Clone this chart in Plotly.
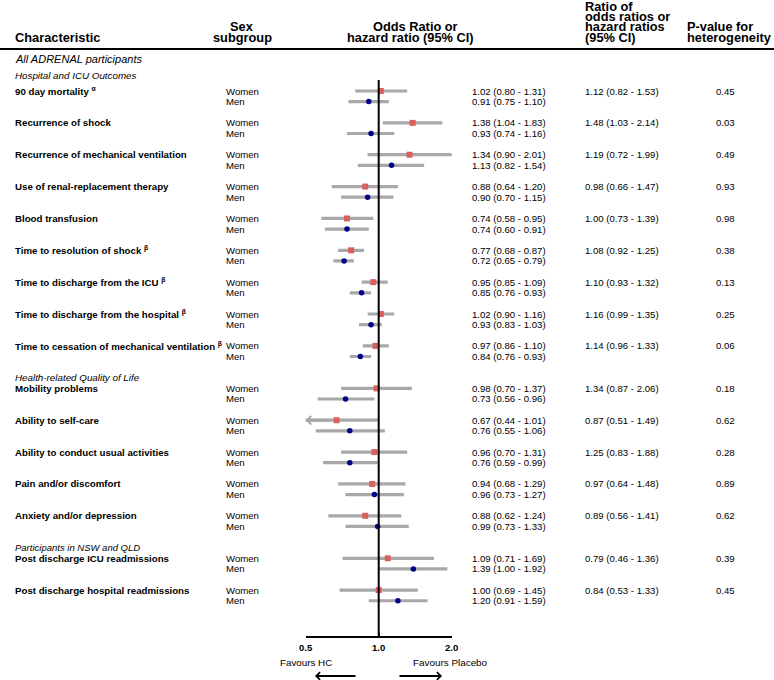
import math
import plotly.graph_objects as go

W, H = 774, 680

# ---------------- data ----------------
section_labels = ["All ADRENAL participants", "Health-related Quality of Life", "Participants in NSW and QLD"]
sub_label = "Hospital and ICU Outcomes"

outcomes = [
    "90 day mortality <sup>α</sup>",
    "Recurrence of shock",
    "Recurrence of mechanical ventilation",
    "Use of renal-replacement therapy",
    "Blood transfusion",
    "Time to resolution of shock <sup>β</sup>",
    "Time to discharge from the ICU <sup>β</sup>",
    "Time to discharge from the hospital <sup>β</sup>",
    "Time to cessation of mechanical ventilation <sup>β</sup>",
    "Mobility problems",
    "Ability to self-care",
    "Ability to conduct usual activities",
    "Pain and/or discomfort",
    "Anxiety and/or depression",
    "Post discharge ICU readmissions",
    "Post discharge hospital readmissions",
]
outcome_section = [0, 0, 0, 0, 0, 0, 0, 0, 0, 1, 1, 1, 1, 1, 2, 2]
sex_labels = ["Women", "Men"]

women_est = [1.02, 1.38, 1.34, 0.88, 0.74, 0.77, 0.95, 1.02, 0.97, 0.98, 0.67, 0.96, 0.94, 0.88, 1.09, 1.00]
women_lo = [0.80, 1.04, 0.90, 0.64, 0.58, 0.68, 0.85, 0.90, 0.86, 0.70, 0.44, 0.70, 0.68, 0.62, 0.71, 0.69]
women_hi = [1.31, 1.83, 2.01, 1.20, 0.95, 0.87, 1.09, 1.16, 1.10, 1.37, 1.01, 1.31, 1.29, 1.24, 1.69, 1.45]
men_est = [0.91, 0.93, 1.13, 0.90, 0.74, 0.72, 0.85, 0.93, 0.84, 0.73, 0.76, 0.76, 0.96, 0.99, 1.39, 1.20]
men_lo = [0.75, 0.74, 0.82, 0.70, 0.60, 0.65, 0.76, 0.83, 0.76, 0.56, 0.55, 0.59, 0.73, 0.73, 1.00, 0.91]
men_hi = [1.10, 1.16, 1.54, 1.15, 0.91, 0.79, 0.93, 1.03, 0.93, 0.96, 1.06, 0.99, 1.27, 1.33, 1.92, 1.59]
ratio_est = [1.12, 1.48, 1.19, 0.98, 1.00, 1.08, 1.10, 1.16, 1.14, 1.34, 0.87, 1.25, 0.97, 0.89, 0.79, 0.84]
ratio_lo = [0.82, 1.03, 0.72, 0.66, 0.73, 0.92, 0.93, 0.99, 0.96, 0.87, 0.51, 0.83, 0.64, 0.56, 0.46, 0.53]
ratio_hi = [1.53, 2.14, 1.99, 1.47, 1.39, 1.25, 1.32, 1.35, 1.33, 2.06, 1.49, 1.88, 1.48, 1.41, 1.36, 1.33]
p_values = ["0.45", "0.03", "0.49", "0.93", "0.98", "0.38", "0.13", "0.25", "0.06",
            "0.18", "0.62", "0.28", "0.89", "0.62", "0.39", "0.45"]

x_min, x_max = 0.5, 2.0
x_ticks = [0.5, 1.0, 2.0]
x_ticktext = ["0.5", "1.0", "2.0"]
null_value = 1.0

# ---------------- layout constants (pixels) ----------------
ROW0_PX = 91.0
ROW_PX = 10.62
AXIS_PX = 635.7
REF_TOP_ROW = -1.04
FONT = "Liberation Sans, Arial, sans-serif"
C_WOMEN = "#d9605c"
C_MEN = "#00008b"
C_CI = "#a8a8a8"

# row index of each outcome (Women row; Men = +1)
rows = []
section_label_rows = {}
r = 0
for k, s in enumerate(outcome_section):
    if k == 0:
        r = 0
    elif s != outcome_section[k - 1]:
        section_label_rows[s] = r + 3
        r = r + 4
    else:
        r = r + 3
    rows.append(r)
section_label_rows[0] = -3

y_top = (0 - ROW0_PX) / ROW_PX
y_bot = (AXIS_PX - ROW0_PX) / ROW_PX


def px(xp):
    return xp / W


def py(yp):
    return 1 - yp / H


fig = go.Figure()


def ci_xy(lo, hi, offset):
    xs, ys = [], []
    for i in range(len(lo)):
        xs += [lo[i], hi[i], None]
        ys += [rows[i] + offset] * 2 + [None]
    return xs, ys


for lo, hi, off in [(women_lo, women_hi, 0), (men_lo, men_hi, 1)]:
    xs, ys = ci_xy(lo, hi, off)
    fig.add_trace(go.Scatter(x=xs, y=ys, mode="lines",
                             line=dict(color=C_CI, width=3.2),
                             hoverinfo="skip", showlegend=False))

fig.add_trace(go.Scatter(x=women_est, y=[r_ for r_ in rows], mode="markers",
                         marker=dict(symbol="square", size=6, color=C_WOMEN),
                         name="Women", showlegend=False, cliponaxis=False))
fig.add_trace(go.Scatter(x=men_est, y=[r_ + 1 for r_ in rows], mode="markers",
                         marker=dict(symbol="circle", size=5.5, color=C_MEN),
                         name="Men", showlegend=False, cliponaxis=False))

shapes = []
shapes.append(dict(type="line", xref="x", yref="y", x0=null_value, x1=null_value,
                   y0=REF_TOP_ROW, y1=y_bot, line=dict(color="black", width=2)))
shapes.append(dict(type="line", xref="paper", yref="paper", x0=0, x1=1,
                   y0=py(49), y1=py(49), line=dict(color="black", width=2.2)))

ann = []


def text(x, y, t, size=9.6, bold=False, italic=False, anchor="left", yref="y"):
    s = t
    if bold:
        s = "<b>" + s + "</b>"
    if italic:
        s = "<i>" + s + "</i>"
    ann.append(dict(x=x, y=y, xref="paper", yref=yref, text=s, showarrow=False,
                    xanchor=anchor, yanchor="middle", borderpad=0,
                    font=dict(family=FONT, size=size, color="black")))


# headers
HS = 12.8
text(px(14), py(37), "Characteristic", HS, bold=True, yref="paper")
text(px(242), py(26.5), "Sex", HS, bold=True, anchor="center", yref="paper")
text(px(242), py(37), "subgroup", HS, bold=True, anchor="center", yref="paper")
text(px(415), py(26.5), "Odds Ratio or", HS, bold=True, anchor="center", yref="paper")
text(px(410), py(37), "hazard ratio (95% CI)", HS, bold=True, anchor="center", yref="paper")
for t, yy in zip(["Ratio of", "odds ratios or", "hazard ratios", "(95% CI)"], [6.5, 16.7, 26.8, 37]):
    text(px(584), py(yy), t, HS, bold=True, yref="paper")
text(px(686), py(26.5), "P-value for", HS, bold=True, yref="paper")
text(px(686), py(37), "heterogeneity", HS, bold=True, yref="paper")

# section labels
text(px(14), section_label_rows[0], section_labels[0], 11, italic=True)
text(px(14), -1.5, sub_label, 9.8, italic=True)
text(px(14), section_label_rows[1], section_labels[1], 9.8, italic=True)
text(px(14), section_label_rows[2], section_labels[2], 9.5, italic=True)

# rows
for i, name in enumerate(outcomes):
    rw = rows[i]
    text(px(14), rw, name, 9.7, bold=True)
    text(px(225), rw, sex_labels[0], 9.6)
    text(px(225), rw + 1, sex_labels[1], 9.6)
    text(px(471), rw, f"{women_est[i]:.2f} ({women_lo[i]:.2f} - {women_hi[i]:.2f})", 9.6)
    text(px(471), rw + 1, f"{men_est[i]:.2f} ({men_lo[i]:.2f} - {men_hi[i]:.2f})", 9.6)
    text(px(584), rw, f"{ratio_est[i]:.2f} ({ratio_lo[i]:.2f} - {ratio_hi[i]:.2f})", 9.6)
    text(px(725), rw, p_values[i], 9.6, anchor="center")

# arrows for CIs truncated by the axis
for lo, off in [(women_lo, 0), (men_lo, 1)]:
    for i, v in enumerate(lo):
        if v < x_min:
            ann.append(dict(x=math.log10(x_min), y=rows[i] + off, xref="x", yref="y",
                            ax=26, ay=0, text="", showarrow=True, arrowhead=4,
                            arrowwidth=3, arrowsize=0.55, arrowcolor=C_CI, standoff=0))

# favours labels and arrows
text(px(306), py(662.3), "Favours HC", 9.8, anchor="center", yref="paper")
text(px(451), py(662.3), "Favours Placebo", 9.9, anchor="center", yref="paper")
ann.append(dict(x=px(315), y=py(676), xref="paper", yref="paper", ax=42, ay=0,
                text="", showarrow=True, arrowhead=4, arrowwidth=2, arrowsize=0.75,
                arrowcolor="black", standoff=0))
ann.append(dict(x=px(442), y=py(676), xref="paper", yref="paper", ax=-44, ay=0,
                text="", showarrow=True, arrowhead=4, arrowwidth=2, arrowsize=0.75,
                arrowcolor="black", standoff=0))

fig.update_layout(
    width=W, height=H,
    margin=dict(l=0, r=0, t=0, b=0, pad=0),
    paper_bgcolor="white", plot_bgcolor="white",
    shapes=shapes, annotations=ann,
    xaxis=dict(type="log", domain=[px(305.7), px(451.7)],
               range=[math.log10(x_min), math.log10(x_max)],
               tickvals=x_ticks, ticktext=x_ticktext,
               ticks="inside", ticklen=3, tickwidth=2, tickcolor="black",
               showline=True, linecolor="black", linewidth=2,
               showgrid=False, zeroline=False, automargin=False,
               ticklabelstandoff=2,
               tickfont=dict(family=FONT, size=9.5, color="black", weight="bold")),
    yaxis=dict(domain=[1 - AXIS_PX / H, 1], range=[y_bot, y_top],
               showgrid=False, zeroline=False, showticklabels=False,
               showline=False, ticks="", automargin=False),
)

fig.write_html("out.html", config={"displayModeBar": False},
               post_script="document.body.style.margin='0px';document.body.style.overflow='hidden';")
